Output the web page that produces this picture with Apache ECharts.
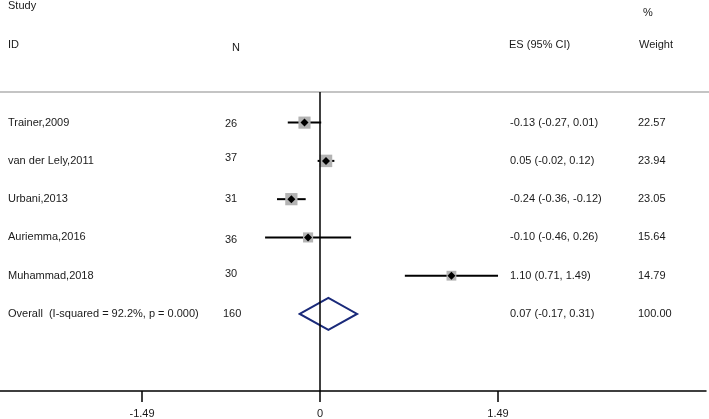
<!DOCTYPE html>
<html><head><meta charset="utf-8">
<script src="https://cdn.jsdelivr.net/npm/echarts@6/dist/echarts.min.js"></script>
<style>html,body{margin:0;padding:0;background:#fff}#c{width:709px;height:419px}</style>
</head><body><div id="c"></div>
<script>
const studies = ['Trainer,2009','van der Lely,2011','Urbani,2013','Auriemma,2016','Muhammad,2018'];
const nValues = [26, 37, 31, 36, 30];
const esValues = [-0.13, 0.05, -0.24, -0.10, 1.10];
const ciLow = [-0.27, -0.02, -0.36, -0.46, 0.71];
const ciHigh = [0.01, 0.12, -0.12, 0.26, 1.49];
const weights = [22.57, 23.94, 23.05, 15.64, 14.79];
const overallLabel = 'Overall  (I-squared = 92.2%, p = 0.000)';
const overallN = 160;
const overallES = 0.07, overallLow = -0.17, overallHigh = 0.31, overallWeight = 100.00;
const tickValues = [-1.49, 0, 1.49];
const nOffsets = [1, -3, 0, 3, -2, 0];

const textColor = '#1a1a1a';
const font = '11px "Liberation Sans", Arial, sans-serif';

const rows = studies.map((s, i) => ({
  row: i + 1, label: s, n: nValues[i],
  es: esValues[i], lo: ciLow[i], hi: ciHigh[i], w: weights[i]
}));
const fmt = v => v.toFixed(2);
const tableData = rows.map(r => [r.row, r.label, r.n, fmt(r.es) + ' (' + fmt(r.lo) + ', ' + fmt(r.hi) + ')', fmt(r.w)]);
tableData.push([6, overallLabel, overallN, fmt(overallES) + ' (' + fmt(overallLow) + ', ' + fmt(overallHigh) + ')', fmt(overallWeight)]);

const chart = echarts.init(document.getElementById('c'));
chart.setOption({
  animation: false,
  grid: { left: 0, right: 3, top: 92, bottom: 27 },
  xAxis: {
    type: 'value', min: -2.679, max: 3.231,
    axisLine: { show: true, lineStyle: { color: '#000', width: 1.5 } },
    axisTick: { show: true, customValues: tickValues, length: 11, lineStyle: { color: '#000', width: 1.5 } },
    axisLabel: { customValues: tickValues, margin: 17, color: textColor, fontSize: 11,
      fontFamily: '"Liberation Sans", Arial, sans-serif',
      formatter: v => (Math.abs(v) < 1e-9 ? '0' : v.toFixed(2)) },
    splitLine: { show: false }
  },
  yAxis: { type: 'value', inverse: true, min: 0.2, max: 8.0125, show: false },
  graphic: [
    { type: 'line', shape: { x1: 0, y1: 92, x2: 709, y2: 92 }, style: { stroke: '#b0b0b0', lineWidth: 1.5 } },
    { type: 'text', left: 8, top: 0, style: { text: 'Study', font: font, fill: textColor } },
    { type: 'text', left: 643, top: 7, style: { text: '%', font: font, fill: textColor } },
    { type: 'text', left: 8, top: 39, style: { text: 'ID', font: font, fill: textColor } },
    { type: 'text', left: 232, top: 42, style: { text: 'N', font: font, fill: textColor } },
    { type: 'text', left: 509, top: 39, style: { text: 'ES (95% CI)', font: font, fill: textColor } },
    { type: 'text', left: 639, top: 39, style: { text: 'Weight', font: font, fill: textColor } }
  ],
  series: [
    {
      type: 'custom', name: 'table', silent: true,
      data: tableData,
      renderItem: (params, api) => {
        const i = params.dataIndex;
        const d = tableData[i];
        const y = api.coord([0, d[0]])[1];
        const mk = (x, t, dy) => ({ type: 'text', style: { x: x, y: y + (dy || 0), text: String(t), font: font, fill: textColor, verticalAlign: 'middle' } });
        return { type: 'group', children: [
          mk(8, d[1], 0), mk(d[2] >= 100 ? 223 : 225, d[2], nOffsets[i]), mk(510, d[3], 0), mk(638, d[4], 0)
        ] };
      }
    },
    {
      type: 'custom', name: 'ci', silent: true,
      data: rows.map(r => [r.lo, r.hi, r.row]),
      renderItem: (params, api) => {
        const a = api.coord([api.value(0), api.value(2)]);
        const b = api.coord([api.value(1), api.value(2)]);
        return { type: 'line', shape: { x1: a[0], y1: a[1], x2: b[0], y2: b[1] }, style: { stroke: '#000', lineWidth: 2 } };
      },
      markLine: { silent: true, symbol: 'none', label: { show: false },
        lineStyle: { color: '#000', width: 1.5, type: 'solid' }, data: [{ xAxis: 0 }] }
    },
    {
      type: 'scatter', name: 'weight', silent: true, symbol: 'rect',
      data: rows.map(r => [r.es, r.row, r.w]),
      symbolSize: v => 2.55 * Math.sqrt(v[2]),
      itemStyle: { color: '#b3b3b3', opacity: 1 }, z: 3
    },
    {
      type: 'scatter', name: 'es', silent: true, symbol: 'diamond', symbolSize: 8,
      data: rows.map(r => [r.es, r.row]),
      itemStyle: { color: '#000', opacity: 1 }, z: 4
    },
    {
      type: 'custom', name: 'overall', silent: true,
      data: [[overallLow, overallES, overallHigh, 6]],
      renderItem: (params, api) => {
        const y = api.value(3);
        const l = api.coord([api.value(0), y]);
        const c = api.coord([api.value(1), y]);
        const r = api.coord([api.value(2), y]);
        const h = 16;
        return { type: 'polygon', shape: { points: [[l[0], l[1]], [c[0], c[1] - h], [r[0], r[1]], [c[0], c[1] + h]] },
          style: { fill: 'none', stroke: '#1a2a7a', lineWidth: 2 } };
      }
    }
  ]
});
</script></body></html>
